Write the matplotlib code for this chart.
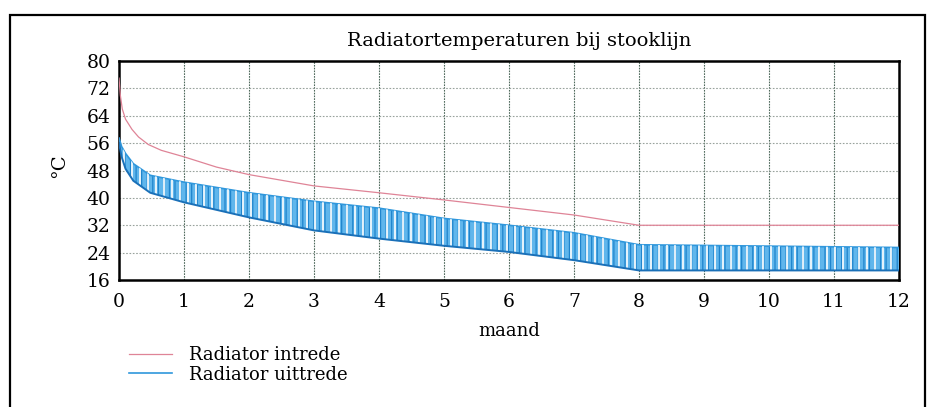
import matplotlib
matplotlib.use("Agg")
import matplotlib.pyplot as plt
import numpy as np
from matplotlib.patches import Rectangle

# values (month, degC)
MONTHS_IN = [0, 0.02, 0.05, 0.1, 0.2, 0.3, 0.45, 0.65, 1, 1.5, 2, 3, 4, 5, 6, 7, 8, 12]
INTREDE = [75, 70, 66, 63, 60, 57.8, 55.6, 53.9, 52, 49, 46.8, 43.5, 41.5, 39.4, 37.2, 35, 32, 32]

MONTHS_UIT = [0, 0.04, 0.1, 0.22, 0.48, 1, 2, 3, 4, 5, 6, 7, 8, 12]
UIT_MAX = [57.5, 55, 53, 50, 46.6, 44.6, 41.5, 39, 37, 34, 32, 29.8, 26.3, 25.5]
UIT_MIN = [56, 52, 48.5, 45, 41.5, 38.7, 34.3, 30.5, 28.1, 26, 24.2, 21.8, 18.8, 18.8]

X_TICKS = list(range(13))
Y_TICKS = [16, 24, 32, 40, 48, 56, 64, 72, 80]

TITLE = "Radiatortemperaturen bij stooklijn"
LABEL_IN = "Radiator intrede"
LABEL_UIT = "Radiator uittrede"

PINK = "#df8497"
BLUE_FILL = "#60b6ec"
BLUE_HATCH = "#1f84cc"
BLUE_EDGE = "#2f97dc"
BLUE_DARK = "#1a70b8"

plt.rcParams["font.family"] = ["DejaVu Serif"]
plt.rcParams["hatch.linewidth"] = 0.9

fig = plt.figure(figsize=(9.35, 4.07), dpi=100)
ax = fig.add_axes([0.1273, 0.312, 0.8342, 0.5381])

# outer scan frame
fig.add_artist(Rectangle((10 / 935, -0.1), 915 / 935, 1.1 - 15 / 407,
                         transform=fig.transFigure, fill=False,
                         edgecolor="black", linewidth=1.6))

# uittrede band (dense oscillation shown as hatched band with gaps)
band = ax.fill_between(MONTHS_UIT, UIT_MIN, UIT_MAX, facecolor=BLUE_FILL,
                       edgecolor=BLUE_HATCH, hatch="|||", linewidth=0, zorder=3)
h_uit, = ax.plot(MONTHS_UIT, UIT_MAX, color=BLUE_EDGE, lw=1.2, zorder=3.2)
gaps = ax.vlines(np.arange(0.07, 12, 0.123), 16, 80, colors="white", lw=1.2, zorder=3.4)
gaps.set_clip_path(band.get_paths()[0], transform=ax.transData)
ax.plot(MONTHS_UIT, UIT_MIN, color=BLUE_DARK, lw=1.4, zorder=3.6)

h_in, = ax.plot(MONTHS_IN, INTREDE, color=PINK, lw=0.9, zorder=4)

ax.set_xlim(0, 12)
ax.set_ylim(16, 80)
ax.set_xticks(X_TICKS)
ax.set_yticks(Y_TICKS)
ax.tick_params(length=0, labelsize=13.5)
ax.tick_params(axis="x", pad=9)
ax.tick_params(axis="y", pad=6)

for x in X_TICKS[1:-1]:
    ax.axvline(x, color="#4f6a5c", lw=0.8, ls=(0, (1.5, 1)), zorder=1)
for y in Y_TICKS[1:-1]:
    ax.axhline(y, color="#98a29c", lw=0.8, ls=(0, (1.5, 1.5)), zorder=1)

for sp in ax.spines.values():
    sp.set_linewidth(1.8)

ax.set_title(TITLE, fontsize=14, pad=11, x=0.513)
ax.set_xlabel("maand", fontsize=13, labelpad=8)
ax.set_ylabel("°C", fontsize=14)
ax.yaxis.set_label_coords(-0.065, 0.52)

fig.legend([h_in, h_uit], [LABEL_IN, LABEL_UIT], loc="upper left",
           bbox_to_anchor=(0.138, 0.15), frameon=False, fontsize=13,
           handlelength=2.4, handletextpad=0.9, labelspacing=0.1,
           borderpad=0, borderaxespad=0)

fig.savefig("out.png", dpi=100)
